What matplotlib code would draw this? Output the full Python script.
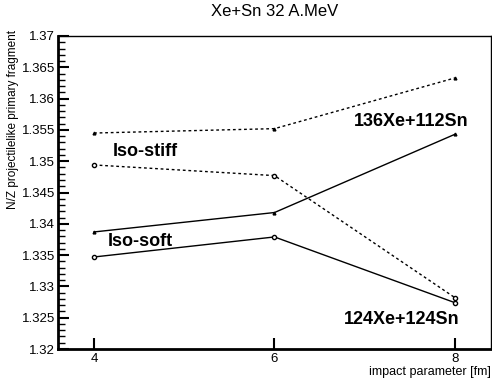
import matplotlib
matplotlib.use('Agg')
import matplotlib.pyplot as plt
from matplotlib.ticker import MultipleLocator

plt.rcParams['font.family'] = ['Liberation Sans', 'DejaVu Sans']

b = [4, 6, 8]
# Iso-stiff (dashed)
stiff_136 = [1.3545, 1.3552, 1.3633]
stiff_124 = [1.3494, 1.3477, 1.3282]
# Iso-soft (solid)
soft_136 = [1.3387, 1.3418, 1.3543]
soft_124 = [1.3347, 1.3379, 1.3274]

fig = plt.figure(figsize=(4.92, 3.81), dpi=100)
ax = fig.add_axes([58/492, 1 - 349/381, (491 - 58)/492, (349 - 36)/381])

ax.plot(b, stiff_136, color='black', linestyle=(0, (2, 2)), linewidth=1,
        marker='^', markersize=2)
ax.plot(b, stiff_124, color='black', linestyle=(0, (2, 2)), linewidth=1,
        marker='o', markersize=3, markerfacecolor='white')
ax.plot(b, soft_136, color='black', linestyle='-', linewidth=1,
        marker='^', markersize=2)
ax.plot(b, soft_124, color='black', linestyle='-', linewidth=1,
        marker='o', markersize=3, markerfacecolor='white')

ax.set_xlim(3.6, 8.4)
ax.set_ylim(1.32, 1.37)
ax.set_xticks(b)
ax.yaxis.set_major_locator(MultipleLocator(0.005))
ax.yaxis.set_minor_locator(MultipleLocator(0.001))
ax.set_yticklabels([f'{v:g}' for v in ax.get_yticks()])
ax.tick_params(axis='both', direction='in', labelsize=9.5, width=1.5, length=8)
ax.tick_params(axis='y', which='minor', direction='in', width=1, length=5)
ax.tick_params(axis='x', pad=3)
ax.tick_params(axis='y', pad=2)

ax.spines['left'].set_linewidth(2)
ax.spines['bottom'].set_linewidth(2)
ax.spines['top'].set_linewidth(1)
ax.spines['right'].set_linewidth(1)

ax.text(4.21, 1.3508, 'Iso-stiff', fontsize=13, fontweight='bold')
ax.text(4.15, 1.3365, 'Iso-soft', fontsize=13, fontweight='bold')
ax.text(6.88, 1.3556, '136Xe+112Sn', fontsize=13, fontweight='bold')
ax.text(6.77, 1.3240, '124Xe+124Sn', fontsize=13, fontweight='bold')

fig.text(275/492, 1 - 12/381, 'Xe+Sn 32 A.MeV', ha='center', va='center', fontsize=12)
fig.text(491/492, 1 - 372/381, 'impact parameter [fm]', ha='right', va='center', fontsize=9)
fig.text(13/492, 1 - 30/381, 'N/Z projectilelike primary fragment', ha='center', va='top',
         rotation=90, fontsize=8.5)

fig.savefig('out.png', dpi=100)
